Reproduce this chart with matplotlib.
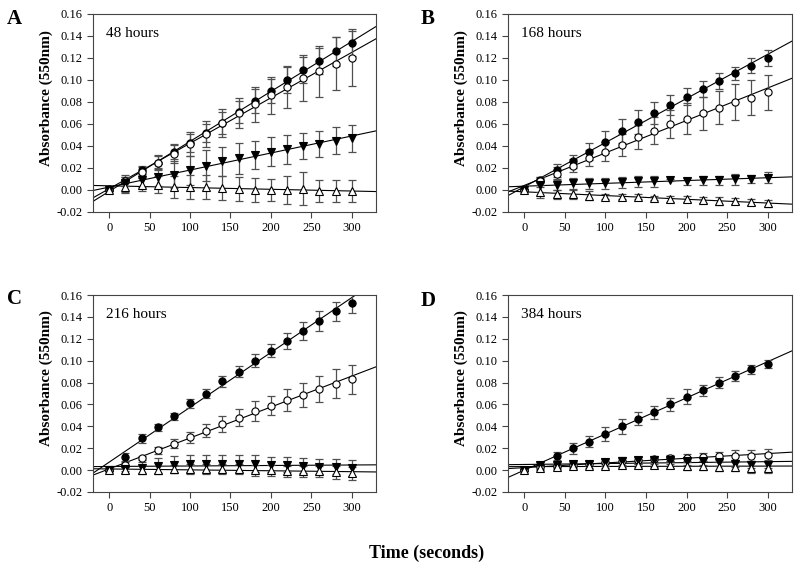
import numpy as np
import matplotlib
matplotlib.use("Agg")
import matplotlib.pyplot as plt

plt.rcParams['font.family'] = ['Liberation Serif', 'DejaVu Serif']

time_s = [0, 20, 40, 60, 80, 100, 120, 140, 160, 180, 200, 220, 240, 260, 280, 300]
panel_letters = ["A", "B", "C", "D"]
panel_titles = ["48 hours", "168 hours", "216 hours", "384 hours"]

# Panel A (48 hours)
a_fc = [0.000, 0.008, 0.018, 0.025, 0.035, 0.043, 0.052, 0.061, 0.071, 0.081, 0.090, 0.100, 0.109, 0.117, 0.126, 0.134]
a_fc_err = [0.001, 0.004, 0.004, 0.006, 0.007, 0.008, 0.008, 0.010, 0.010, 0.011, 0.011, 0.012, 0.012, 0.012, 0.013, 0.012]
a_oc = [0.001, 0.008, 0.016, 0.025, 0.033, 0.042, 0.051, 0.061, 0.070, 0.078, 0.086, 0.094, 0.102, 0.108, 0.115, 0.120]
a_oc_err = [0.001, 0.004, 0.005, 0.007, 0.008, 0.011, 0.012, 0.013, 0.014, 0.016, 0.017, 0.019, 0.021, 0.023, 0.024, 0.025]
a_ft = [0.000, 0.006, 0.009, 0.012, 0.014, 0.018, 0.022, 0.026, 0.029, 0.032, 0.035, 0.037, 0.040, 0.042, 0.045, 0.047]
a_ft_err = [0.001, 0.008, 0.006, 0.008, 0.012, 0.013, 0.014, 0.013, 0.014, 0.013, 0.013, 0.013, 0.012, 0.012, 0.012, 0.012]
a_ot = [0.000, 0.003, 0.005, 0.005, 0.003, 0.003, 0.003, 0.002, 0.001, 0.000, 0.000, 0.000, 0.001, -0.001, -0.001, -0.001]
a_ot_err = [0.001, 0.006, 0.006, 0.008, 0.010, 0.011, 0.011, 0.011, 0.011, 0.011, 0.010, 0.013, 0.015, 0.010, 0.010, 0.010]

# Panel B (168 hours)
b_fc = [0.000, 0.009, 0.018, 0.026, 0.035, 0.044, 0.054, 0.062, 0.070, 0.077, 0.085, 0.092, 0.099, 0.106, 0.113, 0.120]
b_fc_err = [0.001, 0.003, 0.006, 0.006, 0.008, 0.010, 0.011, 0.011, 0.010, 0.009, 0.008, 0.007, 0.007, 0.006, 0.007, 0.007]
b_oc = [0.000, 0.008, 0.015, 0.022, 0.029, 0.035, 0.041, 0.048, 0.054, 0.060, 0.065, 0.070, 0.075, 0.080, 0.084, 0.089]
b_oc_err = [0.001, 0.003, 0.006, 0.006, 0.007, 0.009, 0.010, 0.011, 0.012, 0.013, 0.014, 0.015, 0.015, 0.016, 0.016, 0.016]
b_ft = [0.000, 0.005, 0.005, 0.006, 0.006, 0.006, 0.007, 0.008, 0.008, 0.009, 0.008, 0.009, 0.009, 0.010, 0.010, 0.011]
b_ft_err = [0.001, 0.007, 0.005, 0.005, 0.005, 0.005, 0.005, 0.005, 0.005, 0.001, 0.003, 0.004, 0.004, 0.005, 0.004, 0.005]
b_ot = [0.000, -0.002, -0.004, -0.004, -0.005, -0.006, -0.006, -0.006, -0.007, -0.008, -0.008, -0.009, -0.010, -0.010, -0.011, -0.012]
b_ot_err = [0.001, 0.005, 0.004, 0.004, 0.004, 0.002, 0.002, 0.002, 0.002, 0.003, 0.003, 0.003, 0.004, 0.003, 0.003, 0.003]

# Panel C (216 hours)
c_fc = [0.000, 0.012, 0.029, 0.039, 0.049, 0.061, 0.070, 0.081, 0.090, 0.100, 0.109, 0.118, 0.127, 0.136, 0.145, 0.153]
c_fc_err = [0.001, 0.004, 0.004, 0.003, 0.003, 0.004, 0.004, 0.005, 0.005, 0.006, 0.006, 0.007, 0.008, 0.009, 0.009, 0.009]
c_oc = [0.000, 0.005, 0.011, 0.018, 0.024, 0.030, 0.036, 0.042, 0.048, 0.054, 0.059, 0.064, 0.069, 0.074, 0.079, 0.083]
c_oc_err = [0.001, 0.002, 0.002, 0.003, 0.004, 0.005, 0.006, 0.007, 0.008, 0.009, 0.009, 0.010, 0.011, 0.012, 0.013, 0.013]
c_ft = [0.000, 0.001, 0.002, 0.004, 0.005, 0.006, 0.006, 0.006, 0.006, 0.006, 0.005, 0.005, 0.004, 0.003, 0.003, 0.002]
c_ft_err = [0.001, 0.002, 0.005, 0.007, 0.008, 0.008, 0.008, 0.008, 0.008, 0.008, 0.007, 0.007, 0.007, 0.007, 0.007, 0.007]
c_ot = [0.000, 0.000, 0.000, 0.000, 0.001, 0.001, 0.001, 0.001, 0.001, 0.000, 0.000, -0.001, -0.001, -0.001, -0.002, -0.003]
c_ot_err = [0.001, 0.003, 0.004, 0.004, 0.004, 0.005, 0.005, 0.005, 0.005, 0.005, 0.005, 0.005, 0.005, 0.005, 0.006, 0.006]

# Panel D (384 hours)
d_fc = [0.000, 0.005, 0.013, 0.020, 0.026, 0.033, 0.040, 0.047, 0.053, 0.060, 0.067, 0.073, 0.080, 0.086, 0.092, 0.097]
d_fc_err = [0.001, 0.002, 0.004, 0.005, 0.005, 0.006, 0.007, 0.006, 0.006, 0.006, 0.007, 0.005, 0.005, 0.005, 0.004, 0.004]
d_oc = [0.000, 0.003, 0.004, 0.005, 0.006, 0.007, 0.008, 0.009, 0.010, 0.011, 0.011, 0.012, 0.013, 0.013, 0.013, 0.014]
d_oc_err = [0.001, 0.002, 0.002, 0.002, 0.002, 0.003, 0.003, 0.003, 0.003, 0.003, 0.004, 0.004, 0.004, 0.005, 0.005, 0.005]
d_ft = [0.000, 0.005, 0.005, 0.006, 0.006, 0.007, 0.008, 0.009, 0.009, 0.009, 0.008, 0.008, 0.007, 0.006, 0.005, 0.005]
d_ft_err = [0.001, 0.002, 0.002, 0.002, 0.002, 0.003, 0.004, 0.003, 0.003, 0.003, 0.003, 0.003, 0.003, 0.003, 0.003, 0.003]
d_ot = [0.000, 0.002, 0.003, 0.004, 0.004, 0.004, 0.005, 0.005, 0.005, 0.005, 0.004, 0.004, 0.003, 0.003, 0.002, 0.002]
d_ot_err = [0.001, 0.002, 0.002, 0.002, 0.002, 0.002, 0.002, 0.002, 0.002, 0.003, 0.004, 0.004, 0.004, 0.004, 0.005, 0.005]

panels = [
    [(a_fc, a_fc_err), (a_oc, a_oc_err), (a_ft, a_ft_err), (a_ot, a_ot_err)],
    [(b_fc, b_fc_err), (b_oc, b_oc_err), (b_ft, b_ft_err), (b_ot, b_ot_err)],
    [(c_fc, c_fc_err), (c_oc, c_oc_err), (c_ft, c_ft_err), (c_ot, c_ot_err)],
    [(d_fc, d_fc_err), (d_oc, d_oc_err), (d_ft, d_ft_err), (d_ot, d_ot_err)],
]
# marker, face colour for: filled circle, open circle, filled down-triangle, open up-triangle
styles = [("o", "black"), ("o", "white"), ("v", "black"), ("^", "white")]

fig = plt.figure(figsize=(8.0, 5.7), dpi=100)
W, H = 800.0, 570.0
boxes = [(93, 14, 376, 212), (508, 14, 792, 212), (93, 295, 376, 492), (508, 295, 792, 492)]
letter_pos = [(14, 19), (428, 19), (14, 299), (428, 301)]

x = np.array(time_s, dtype=float)
xfit = np.array([-20.0, 330.0])
ytick_vals = np.arange(-0.02, 0.161, 0.02)
for i, (l, t, r, b) in enumerate(boxes):
    ax = fig.add_axes([l / W, 1 - b / H, (r - l) / W, (b - t) / H])
    for (vals, errs), (mk, fc) in zip(panels[i], styles):
        y = np.array(vals)
        k, c0 = np.polyfit(x, y, 1)
        ax.plot(xfit, k * xfit + c0, color="black", lw=0.8, zorder=2)
        ax.errorbar(x, y, yerr=errs, fmt="none", ecolor="#505050", elinewidth=0.9,
                    capsize=3, capthick=0.9, zorder=3)
        ax.plot(x, y, linestyle="none", marker=mk, markersize=5.2, markerfacecolor=fc,
                markeredgecolor="black", markeredgewidth=0.8, zorder=4)
    ax.set_xlim(-20, 330)
    ax.set_ylim(-0.02, 0.16)
    ax.set_xticks([0, 50, 100, 150, 200, 250, 300])
    ax.set_yticks(ytick_vals)
    ax.set_yticklabels([f"{v:.2f}" for v in ytick_vals])
    ax.tick_params(direction="out", length=4.5, width=0.8, labelsize=9, color="#444444",
                   pad=3)
    for sp in ax.spines.values():
        sp.set_linewidth(0.8)
        sp.set_color("#444444")
    ax.set_ylabel("Absorbance (550nm)", fontsize=11, fontweight="bold")
    ax.yaxis.set_label_coords(-0.14, 0.577)
    ax.text(0.046, 0.9, panel_titles[i], transform=ax.transAxes, fontsize=11,
            ha="left", va="center")
    fig.text(letter_pos[i][0] / W, 1 - letter_pos[i][1] / H, panel_letters[i],
             fontsize=15, fontweight="bold", ha="center", va="center")

fig.text(427 / W, 1 - 553 / H, "Time (seconds)", fontsize=13, fontweight="bold",
         ha="center", va="center")

fig.savefig("out.png", dpi=100)
